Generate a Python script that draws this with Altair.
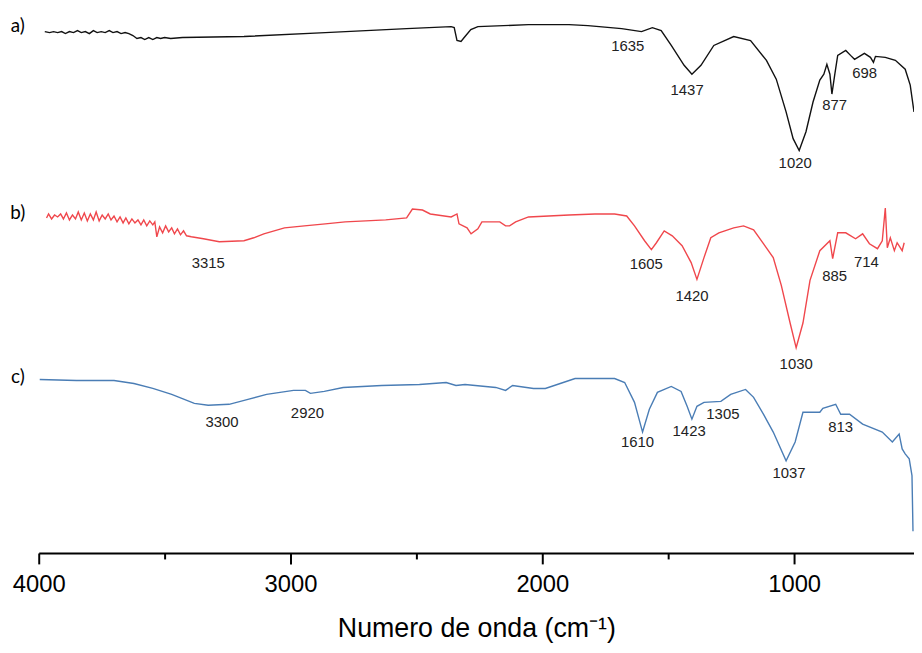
import altair as alt
import pandas as pd

# ---- spectrum a) (black) : wavenumber (cm-1) / transmittance (a.u.) ----
A_WN = [3976, 3957, 3941, 3925, 3909, 3894, 3878, 3862, 3846, 3831,
        3815, 3799, 3783, 3768, 3752, 3736, 3720, 3705, 3689, 3673,
        3657, 3642, 3626, 3610, 3594, 3579, 3563, 3547, 3531, 3516,
        3500, 3476, 3429, 3185, 2862, 2539, 2362, 2350, 2339, 2323,
        2307, 2284, 2256, 2055, 1894, 1819, 1685, 1606, 1563, 1528,
        1488, 1437, 1406, 1370, 1319, 1240, 1173, 1110, 1071, 1032,
        1004, 980, 953, 925, 898, 882, 870, 858, 850, 839,
        827, 795, 776, 760, 721, 697, 685, 677, 638, 598,
        559, 539, 524]
A_T = [526, 525, 526, 525, 526, 524, 526, 525, 527, 525,
       526, 524, 527, 525, 526, 525, 527, 525, 526, 524,
       525, 524, 522, 519, 520, 518, 520, 518, 520, 519,
       520, 519, 520, 521, 525, 529, 531, 530, 517, 516,
       521, 528, 531, 533, 533, 532, 529, 526, 530, 527,
       512, 492, 483, 492, 512, 521, 517, 497, 478, 445,
       418, 406, 425, 455, 477, 483, 493, 483, 463, 482,
       502, 507, 502, 498, 504, 500, 495, 501, 500, 497,
       488, 472, 445]

# ---- spectrum b) (red) ----
B_WN = [3969, 3961, 3949, 3937, 3925, 3913, 3902, 3890, 3878, 3866,
        3854, 3843, 3831, 3819, 3807, 3795, 3783, 3772, 3760, 3748,
        3736, 3724, 3713, 3701, 3689, 3677, 3665, 3654, 3642, 3630,
        3618, 3606, 3594, 3583, 3571, 3559, 3547, 3539, 3531, 3520,
        3508, 3496, 3484, 3472, 3461, 3449, 3437, 3425, 3413, 3394,
        3346,
        3283, 3185, 3146, 3106, 3024, 2945, 2862, 2783, 2701, 2622,
        2539, 2516, 2476, 2445, 2362, 2339, 2331, 2299, 2283, 2256,
        2240, 2169, 2146, 2130, 2106, 2055, 1894, 1791, 1713, 1665,
        1634, 1594, 1567, 1547, 1516, 1484, 1445, 1409, 1386, 1358,
        1331, 1299, 1240, 1201, 1161, 1122, 1083, 1051, 1016, 992,
        965, 937, 898, 858, 847, 827, 795, 756, 728, 701,
        669, 650, 638, 630, 618, 602, 591, 571, 563]
B_T = [338, 342, 337, 341, 339, 342, 337, 343, 336, 341,
       337, 344, 336, 343, 335, 342, 336, 344, 335, 341,
       337, 342, 336, 340, 334, 339, 333, 338, 332, 337,
       333, 336, 331, 336, 330, 335, 331, 334, 319, 329,
       323, 330, 324, 328, 322, 327, 321, 325, 320, 319,
       317,
       314, 315, 318, 322, 328, 330, 332, 334, 335, 336,
       338, 347, 346, 342, 339, 342, 332, 328, 322, 327,
       334, 334, 330, 330, 334, 339, 341, 342, 342, 340,
       330, 315, 306, 313, 325, 320, 310, 293, 276, 298,
       318, 323, 328, 330, 326, 312, 298, 270, 232, 207,
       232, 275, 305, 315, 297, 323, 323, 317, 322, 312,
       307, 315, 348, 308, 318, 305, 313, 305, 313]

# ---- spectrum c) (blue) ----
C_WN = [3996, 3850, 3701, 3622, 3547, 3472, 3382, 3327, 3244, 3169,
        3095, 2988, 2941, 2921, 2866, 2791, 2638, 2488, 2382, 2343,
        2307, 2185, 2146, 2118, 2035, 1988, 1929, 1870, 1713, 1673,
        1634, 1602, 1575, 1543, 1488, 1449, 1425, 1406, 1386, 1358,
        1291, 1252, 1193, 1161, 1122, 1083, 1032, 996, 965, 937,
        898, 886, 835, 815, 780, 728, 650, 610, 583, 571,
        559, 543, 532, 528]
C_T = [175, 174, 174, 171, 166, 160, 151, 149, 150, 155,
       160, 164, 164, 161, 163, 167, 169, 170, 172, 169,
       170, 167, 164, 169, 166, 166, 171, 176, 176, 172,
       152, 122, 145, 162, 168, 163, 148, 135, 148, 152,
       153, 160, 165, 157, 140, 122, 93, 112, 142, 142,
       142, 146, 150, 140, 140, 130, 122, 112, 120, 105,
       100, 95, 78, 22]

# ---- peak annotations ----
PEAK_TEXT = ["1635", "1437", "1020", "877", "698",
             "3315", "1605", "1420", "1030", "885", "714",
             "3300", "2920", "1610", "1423", "1305", "1037", "813"]
PEAK_WN = [1661, 1425, 996, 839, 720,
           3327, 1587, 1406, 992, 839, 713,
           3272, 2933, 1622, 1417, 1283, 1020, 815]
PEAK_T = [511, 467, 393, 452, 484,
          293, 291, 259, 191, 279, 294,
          132, 141, 112, 123, 140, 81, 127]

SERIES_TEXT = ["a)", "b)", "c)"]
SERIES_WN = [4083, 4083, 4083]
SERIES_T = [532, 343, 177]

SERIES_NAMES = ["a", "b", "c"]
SERIES_COLORS = ["#111111", "#f0474c", "#4a7db5"]

MAJOR_TICKS = [4000, 3000, 2000, 1000]
MINOR_TICKS = [3500, 2500, 1500]

spectra = pd.DataFrame({
    "wn": A_WN + B_WN + C_WN,
    "t": A_T + B_T + C_T,
    "serie": ["a"] * len(A_WN) + ["b"] * len(B_WN) + ["c"] * len(C_WN),
})
peaks = pd.DataFrame({"wn": PEAK_WN, "t": PEAK_T, "label": PEAK_TEXT})
series_lbl = pd.DataFrame({"wn": SERIES_WN, "t": SERIES_T, "label": SERIES_TEXT})

x_scale = alt.Scale(domain=[4000, 524], nice=False, zero=False)
y_scale = alt.Scale(domain=[0, 547], nice=False, zero=False)

lines = alt.Chart(spectra).mark_line(strokeWidth=1.4).encode(
    x=alt.X("wn:Q", scale=x_scale,
            axis=alt.Axis(values=MAJOR_TICKS, format="d", orient="bottom",
                          grid=False, tickSize=11, tickWidth=2, tickColor="black",
                          domainWidth=2, domainColor="black",
                          labelFont="Liberation Sans", labelFontSize=24,
                          labelColor="black", labelPadding=9, labelFlush=False,
                          title="Numero de onda (cm⁻¹)",
                          titleFont="Liberation Sans", titleFontSize=27,
                          titleFontWeight="normal", titleColor="black",
                          titleBaseline="alphabetic", titleY=84)),
    y=alt.Y("t:Q", scale=y_scale, axis=None),
    color=alt.Color("serie:N", scale=alt.Scale(domain=SERIES_NAMES, range=SERIES_COLORS),
                    legend=None),
)

peak_text = alt.Chart(peaks).mark_text(
    font="Liberation Sans", fontSize=15, color="#222222", align="center", baseline="middle"
).encode(
    x=alt.X("wn:Q", scale=x_scale,
            axis=alt.Axis(values=MINOR_TICKS, orient="bottom", grid=False, labels=False,
                          domain=False, tickSize=6, tickWidth=2, tickColor="black",
                          title="")),
    y=alt.Y("t:Q", scale=y_scale, axis=None),
    text="label:N",
)

series_text = alt.Chart(series_lbl).mark_text(
    font="Lato", fontSize=19, color="black", align="center", baseline="middle"
).encode(
    x=alt.X("wn:Q", scale=x_scale, axis=None),
    y=alt.Y("t:Q", scale=y_scale, axis=None),
    text="label:N",
)

chart = alt.layer(lines, peak_text, series_text).resolve_axis(
    x="independent"
).properties(
    width=883, height=547,
    autosize=alt.AutoSizeParams(type="none"),
    padding={"left": 31, "right": 0, "top": 0, "bottom": 88},
).configure_view(stroke=None)

chart.save("out.html", embed_options={"renderer": "svg", "actions": False})
